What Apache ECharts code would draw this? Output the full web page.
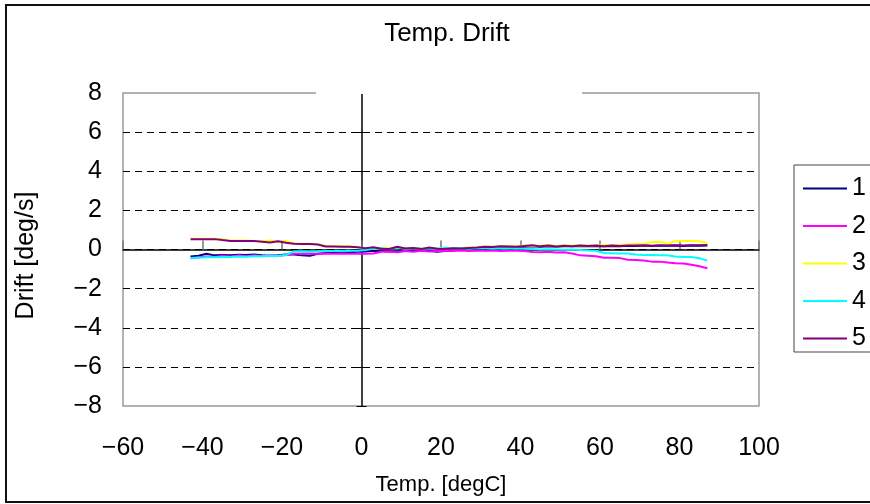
<!DOCTYPE html>
<html>
<head>
<meta charset="utf-8">
<script src="https://cdn.jsdelivr.net/npm/echarts@6/dist/echarts.min.js"></script>
<style>
  html, body { margin: 0; padding: 0; background: #fff; }
  #main { width: 870px; height: 504px; }
</style>
</head>
<body>
<div id="main"></div>
<script>
// temperature points (degC), shared by all five sensors
const temps = [-43,-41,-39,-37,-35,-33,-31,-29,-27,-25,-23,-21,-19,-17,-15,-13,-11,-9,-7,-5,-3,-1,
  1,3,5,7,9,11,13,15,17,19,21,23,25,27,29,31,33,35,37,39,41,43,45,47,49,51,53,55,57,59,61,63,65,67,
  69,71,73,75,77,79,81,83,85,87];

// drift [deg/s] per sensor
const drift1 = [-0.36,-0.32,-0.22,-0.30,-0.28,-0.30,-0.27,-0.28,-0.26,-0.30,-0.33,-0.30,-0.26,-0.25,-0.30,-0.32,-0.22,-0.18,-0.16,-0.15,-0.14,-0.12,
  -0.10,-0.06,-0.08,-0.10,-0.11,-0.06,-0.05,-0.04,-0.06,-0.12,-0.08,-0.02,0.00,0.02,0.04,0.06,0.08,0.10,0.12,0.12,0.14,0.16,
  0.14,0.16,0.15,0.17,0.16,0.18,0.16,0.18,0.17,0.18,0.17,0.19,0.18,0.20,0.18,0.20,0.19,0.20,0.18,0.20,0.19,0.20];
const drift2 = [-0.45,-0.40,-0.36,-0.38,-0.32,-0.36,-0.30,-0.34,-0.30,-0.33,-0.30,-0.32,-0.28,-0.22,-0.22,-0.21,-0.22,-0.21,-0.22,-0.21,-0.22,-0.22,
  -0.22,-0.20,-0.12,-0.10,-0.14,-0.08,-0.12,-0.06,-0.10,-0.08,-0.06,-0.08,-0.05,-0.08,-0.06,-0.07,-0.05,-0.08,-0.06,-0.07,-0.08,-0.13,
  -0.14,-0.12,-0.15,-0.14,-0.20,-0.30,-0.32,-0.34,-0.42,-0.42,-0.44,-0.52,-0.54,-0.56,-0.62,-0.62,-0.66,-0.70,-0.72,-0.78,-0.86,-0.96];
const drift3 = [0.55,0.55,0.55,0.55,0.52,0.46,0.46,0.46,0.44,0.42,0.46,0.40,0.44,0.32,0.30,0.29,0.27,0.18,0.17,0.16,0.15,0.13,
  0.05,0.02,0.08,0.06,0.12,0.04,0.08,0.06,0.08,0.05,0.07,0.06,0.08,0.10,0.12,0.15,0.14,0.16,0.18,0.16,0.20,0.18,
  0.20,0.22,0.18,0.22,0.20,0.22,0.20,0.22,0.24,0.22,0.24,0.26,0.28,0.28,0.38,0.40,0.30,0.42,0.43,0.43,0.42,0.33];
const drift4 = [-0.44,-0.42,-0.40,-0.40,-0.38,-0.38,-0.36,-0.37,-0.34,-0.35,-0.32,-0.33,-0.28,-0.10,-0.09,-0.10,-0.09,-0.08,-0.08,-0.07,-0.06,-0.06,
  -0.02,0.04,0.06,0.02,0.08,0.05,0.06,0.04,0.06,0.05,0.08,0.05,0.06,0.04,0.06,0.07,0.05,0.06,0.05,0.06,0.04,0.02,
  0.00,0.01,0.00,-0.01,0.00,-0.02,-0.05,-0.06,-0.18,-0.19,-0.20,-0.20,-0.26,-0.28,-0.28,-0.30,-0.30,-0.36,-0.38,-0.38,-0.45,-0.57];
const drift5 = [0.53,0.53,0.53,0.53,0.48,0.44,0.44,0.44,0.43,0.40,0.36,0.42,0.34,0.29,0.28,0.28,0.26,0.15,0.15,0.14,0.14,0.12,
  0.06,0.12,0.04,0.03,0.14,0.05,0.08,0.02,0.10,0.04,0.03,0.06,0.05,0.08,0.10,0.14,0.13,0.16,0.15,0.14,0.18,0.22,
  0.16,0.20,0.15,0.19,0.17,0.20,0.18,0.20,0.17,0.20,0.18,0.21,0.20,0.22,0.19,0.21,0.20,0.22,0.21,0.22,0.22,0.23];

const seriesNames = ['1', '2', '3', '4', '5'];
const seriesColors = ['#000080', '#FF00FF', '#FFFF00', '#00FFFF', '#800080'];
const allDrift = [drift1, drift2, drift3, drift4, drift5];

const FONT = 'Liberation Sans';
const minus = v => (v < 0 ? '\u2212' + Math.abs(v) : String(v));

let chart = echarts.init(document.getElementById('main'));

let series = allDrift.map((d, i) => ({
  name: seriesNames[i],
  type: 'line',
  xAxisIndex: 1,
  yAxisIndex: 1,
  symbol: 'none',
  data: temps.map((t, k) => [t, d[k]]),
  lineStyle: { color: seriesColors[i], width: 2 },
  itemStyle: { color: seriesColors[i] },
  z: 3 + i
}));

let option = {
  animation: false,
  backgroundColor: '#fff',
  title: {
    text: 'Temp. Drift',
    left: 442,
    top: 16,
    textAlign: 'center',
    textStyle: { fontFamily: FONT, fontSize: 26, fontWeight: 'normal', color: '#000' }
  },
  legend: {
    orient: 'vertical',
    left: 794,
    top: 165,
    icon: 'rect',
    itemWidth: 44,
    itemHeight: 2,
    itemGap: 12.5,
    padding: [11, 40, 1, 9],
    borderColor: '#444',
    borderWidth: 1,
    backgroundColor: '#fff',
    textStyle: { fontFamily: FONT, fontSize: 25, color: '#000', lineHeight: 25 },
    data: seriesNames
  },
  grid: {
    left: 123,
    right: 111,
    top: 93,
    bottom: 98,
    show: true,
    borderColor: '#999',
    borderWidth: 1.5
  },
  xAxis: [
    {
      // labels along the bottom
      type: 'value', min: -60, max: 100, interval: 20, position: 'bottom',
      axisLine: { show: false, onZero: false },
      axisTick: { show: false },
      splitLine: { show: false },
      axisLabel: { fontFamily: FONT, fontSize: 25, color: '#000', margin: 30, formatter: minus },
      name: 'Temp. [degC]',
      nameLocation: 'middle',
      nameGap: 68,
      nameTextStyle: { fontFamily: FONT, fontSize: 22, color: '#000' }
    },
    {
      // the axis line through y = 0
      type: 'value', min: -60, max: 100, interval: 20, position: 'bottom',
      axisLine: { show: true, onZero: true, lineStyle: { color: '#000', width: 1.5 } },
      axisTick: { show: true, inside: true, length: 9, lineStyle: { color: '#777', width: 1.5 } },
      axisLabel: { show: false },
      splitLine: { show: false }
    }
  ],
  yAxis: [
    {
      type: 'value', min: -8, max: 8, interval: 2, position: 'left',
      axisLine: { show: false, onZero: false },
      axisTick: { show: false },
      axisLabel: { fontFamily: FONT, fontSize: 25, color: '#000', margin: 21, formatter: minus },
      splitLine: { show: true, showMinLine: false, showMaxLine: false,
        lineStyle: { color: '#000', width: 1, type: [7, 5] } },
      name: 'Drift [deg/s]',
      nameLocation: 'middle',
      nameGap: 84,
      nameTextStyle: { fontFamily: FONT, fontSize: 25, color: '#000', padding: [0, 0, 0, -12] }
    },
    {
      // the axis line through x = 0
      type: 'value', min: -8, max: 8, interval: 2, position: 'left',
      axisLine: { show: true, onZero: true, lineStyle: { color: '#000', width: 1.5 } },
      axisTick: { show: true, inside: true, length: 5, lineStyle: { color: '#000' } },
      axisLabel: { show: false },
      splitLine: { show: false }
    },
    {
      type: 'value', min: -8, max: 8, interval: 2, position: 'left',
      axisLine: { show: false, onZero: true },
      axisTick: { show: true, inside: false, length: 5, lineStyle: { color: '#000' } },
      axisLabel: { show: false },
      splitLine: { show: false }
    }
  ],
  graphic: [
    // outer chart frame
    { type: 'rect', z: 0, silent: true,
      shape: { x: 6, y: 5, width: 900, height: 497 },
      style: { fill: 'none', stroke: '#111', lineWidth: 2 } },
    // gap in the top edge of the plot frame
    { type: 'rect', z: 100, silent: true,
      shape: { x: 316, y: 90, width: 266, height: 4 },
      style: { fill: '#fff' } }
  ],
  series: series
};

chart.setOption(option);
</script>
</body>
</html>
